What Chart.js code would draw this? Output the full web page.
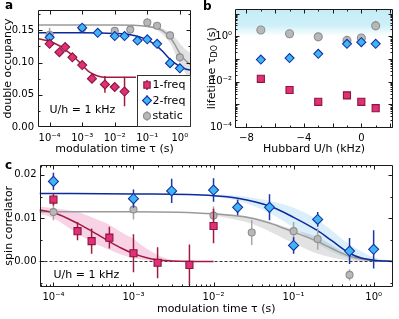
<!DOCTYPE html>
<html><head><meta charset="utf-8">
<script src="https://cdn.jsdelivr.net/npm/chart.js@4.4.1/dist/chart.umd.min.js"></script>
<style>
html,body{margin:0;padding:0;background:#fff}
body{position:relative;width:399px;height:319px;overflow:hidden}
canvas{position:absolute}
.pl{position:absolute;font:bold 12px "DejaVu Sans",sans-serif;color:#000;line-height:12px}
</style></head><body>
<canvas id="ca" width="199" height="160" style="left:0;top:0"></canvas>
<canvas id="cb" width="199" height="160" style="left:200px;top:0"></canvas>
<canvas id="cc" width="399" height="164" style="left:0;top:155px"></canvas>
<div class="pl" style="left:5px;top:-1px">a</div>
<div class="pl" style="left:203px;top:0px">b</div>
<div class="pl" style="left:5px;top:159px">c</div>
<script>
// ---------------- series names ----------------
const seriesNames = ['1-freq', '2-freq', 'static'];
const noteText = 'U/h = 1 kHz';

// ---------------- panel a : double occupancy ----------------
const aX1 = [1e-4, 2e-4, 3e-4, 5e-4, 1e-3, 2e-3, 5e-3, 1e-2, 2e-2];
const aY1 = [0.129, 0.116, 0.124, 0.108, 0.096, 0.075, 0.066, 0.062, 0.055];
const aE1 = [0.005, 0.004, 0.004, 0.004, 0.004, 0.006, 0.013, 0.004, 0.023];
const aX2 = [1e-4, 1e-3, 3e-3, 1e-2, 2e-2, 5e-2, 1e-1, 2e-1, 5e-1, 1];
const aY2 = [0.139, 0.154, 0.146, 0.141, 0.141, 0.134, 0.136, 0.129, 0.099, 0.091];
const aE2 = [0.007, 0.004, 0.006, 0.003, 0.003, 0.003, 0.003, 0.003, 0.006, 0.006];
const aX0 = [1e-4, 1e-3, 1e-2, 3e-2, 1e-1, 2e-1, 5e-1, 1];
const aY0 = [0.143, 0.153, 0.149, 0.151, 0.162, 0.157, 0.142, 0.108];
const aE0 = [0.011, 0.005, 0.006, 0.006, 0.007, 0.005, 0.006, 0.007];
// fit curves
const aFitX1 = [4.4e-5, 1e-4, 2e-4, 3e-4, 5e-4, 7e-4, 1e-3, 1.5e-3, 2e-3, 3e-3, 5e-3, 4.5e-2];
const aFitY1 = [0.137, 0.133, 0.126, 0.120, 0.111, 0.104, 0.096, 0.087, 0.083, 0.079, 0.077, 0.077];
const aFitX2 = [4.4e-5, 1e-3, 1e-2, 3e-2, 0.1, 0.2, 0.3, 0.5, 0.7, 1, 1.5, 2.2];
const aFitY2 = [0.146, 0.146, 0.145, 0.143, 0.135, 0.125, 0.117, 0.105, 0.099, 0.094, 0.090, 0.088];
const aFitX0 = [4.4e-5, 1e-2, 0.1, 0.2, 0.3, 0.5, 0.7, 1, 1.5, 2.2];
const aFitY0 = [0.158, 0.158, 0.156, 0.153, 0.149, 0.139, 0.128, 0.114, 0.103, 0.096];
const aBandX0 = [0.1, 0.2, 0.5, 1, 1.5, 2.2];
const aBandLo0 = [0.155, 0.150, 0.130, 0.098, 0.083, 0.072];
const aBandHi0 = [0.157, 0.156, 0.146, 0.130, 0.120, 0.114];
const aXTicks = [1e-4, 1e-3, 1e-2, 1e-1, 1];
const aXTickLabels = ['10⁻⁴', '10⁻³', '10⁻²', '10⁻¹', '10⁰'];
const aYTicks = [0, 0.05, 0.10, 0.15];
const aYTickLabels = ['0.00', '0.05', '0.10', '0.15'];
const aYMinor = [0.025, 0.075, 0.125, 0.175];

// ---------------- panel b : lifetime ----------------
const bX = [-7, -5, -3, -1, 0, 1];
const bY1 = [0.0134, 0.0043, 0.0013, 0.0025, 0.0013, 0.00068];
const bLo1 = [0.0122, 0.0039, 0.00118, 0.0022, 0.00118, 0.00062];
const bHi1 = [0.0147, 0.0047, 0.00143, 0.0034, 0.00143, 0.00074];
const bY2 = [0.095, 0.11, 0.17, 0.47, 0.55, 0.47];
const bLo2 = [0.088, 0.10, 0.155, 0.43, 0.50, 0.43];
const bHi2 = [0.103, 0.12, 0.185, 0.52, 0.60, 0.52];
const bY0 = [1.9, 1.3, 0.95, 0.66, 0.84, 2.9];
const bLo0 = [1.7, 1.18, 0.86, 0.6, 0.76, 2.6];
const bHi0 = [2.1, 1.45, 1.05, 0.73, 0.93, 4.8];
const bShadeFrom = 1.0;
const bXTicks = [-8, -4, 0];
const bXTickLabels = ['−8', '−4', '0'];
const bXMajorMarks = [-8, -6, -4, -2, 0, 2];
const bXMinorMarks = [-7, -5, -3, -1, 1];
const bYTicks = [1e-4, 1e-2, 1];
const bYTickLabels = ['10⁻⁴', '10⁻²', '10⁰'];
const bYDecades = [1e-4, 1e-3, 1e-2, 1e-1, 1, 10];

// ---------------- panel c : spin correlator ----------------
const cX1 = [1e-4, 2e-4, 3e-4, 5e-4, 1e-3, 2e-3, 5e-3, 1e-2];
const cY1 = [0.0143, 0.0070, 0.0047, 0.0055, 0.0019, -0.0003, -0.0008, 0.0082];
const cE1 = [0.0014, 0.0021, 0.0029, 0.0025, 0.0044, 0.0036, 0.0047, 0.0040];
const cX2 = [1e-4, 1e-3, 3e-3, 1e-2, 2e-2, 5e-2, 1e-1, 2e-1, 5e-1, 1];
const cY2 = [0.0185, 0.0145, 0.0163, 0.0165, 0.0125, 0.0125, 0.0037, 0.0097, 0.0024, 0.0028];
const cE2 = [0.0020, 0.0021, 0.0028, 0.0027, 0.0018, 0.0030, 0.0019, 0.0017, 0.0030, 0.0044];
const cX0 = [1e-4, 1e-3, 1e-2, 3e-2, 1e-1, 2e-1, 5e-1];
const cY0 = [0.0114, 0.0120, 0.0106, 0.0067, 0.0070, 0.0052, -0.0031];
const cE0 = [0.0019, 0.0023, 0.0021, 0.0029, 0.0021, 0.0025, 0.0013];
const cFitX1 = [6.7e-5, 1e-4, 2e-4, 3e-4, 5e-4, 7e-4, 1e-3, 1.5e-3, 2e-3, 3e-3, 5e-3, 1e-2];
const cFitY1 = [0.0119, 0.0113, 0.0088, 0.0070, 0.0046, 0.0031, 0.0018, 0.0008, 0.0004, 0.0001, 0, 0];
const cFitX2 = [6.7e-5, 1e-3, 1e-2, 2e-2, 5e-2, 0.1, 0.2, 0.3, 0.5, 0.7, 1, 1.74];
const cFitY2 = [0.0157, 0.0156, 0.0152, 0.0146, 0.0128, 0.0102, 0.0071, 0.0048, 0.0019, 0.0008, 0.0003, 0];
const cFitX0 = [6.7e-5, 1e-3, 1e-2, 3e-2, 5e-2, 0.1, 0.2, 0.3, 0.5, 1, 1.74];
const cFitY0 = [0.0115, 0.0115, 0.0110, 0.0100, 0.0089, 0.0068, 0.0046, 0.0030, 0.0012, 0.0002, 0];
const cBandX1 = [6.7e-5, 1e-4, 2e-4, 3e-4, 5e-4, 7e-4, 1e-3, 1.5e-3, 2e-3, 3e-3, 5e-3];
const cBandLo1 = [0.0110, 0.0100, 0.0064, 0.0045, 0.0027, 0.0016, 0.0008, 0.0002, 0, 0, 0];
const cBandHi1 = [0.0127, 0.0123, 0.0114, 0.0102, 0.0085, 0.0068, 0.0052, 0.0028, 0.0015, 0.0004, 0.0001];
const cBandX2 = [1e-2, 2e-2, 5e-2, 0.1, 0.2, 0.5, 1, 1.74];
const cBandLo2 = [0.0150, 0.0140, 0.0112, 0.0078, 0.0040, 0.0007, 0.0001, 0];
const cBandHi2 = [0.0155, 0.0152, 0.0140, 0.0124, 0.0096, 0.0040, 0.0010, 0.0002];
const cBandX0 = [1e-2, 3e-2, 0.1, 0.2, 0.5, 1, 1.74];
const cBandLo0 = [0.0106, 0.0087, 0.0042, 0.0018, 0.0002, 0, 0];
const cBandHi0 = [0.0112, 0.0103, 0.0074, 0.0056, 0.0016, 0.0003, 0];
const cZeroLine = 0;
const cXTicks = [1e-4, 1e-3, 1e-2, 1e-1, 1];
const cXTickLabels = ['10⁻⁴', '10⁻³', '10⁻²', '10⁻¹', '10⁰'];
const cYTicks = [0, 0.01, 0.02];
const cYTickLabels = ['0.00', '0.01', '0.02'];
const cYMinor = [-0.005, 0.005, 0.015];

// ---------------- styles ----------------
const RED = {fill: '#e0307a', edge: '#8c1538', line: '#a3183f', err: '#9e1c44'};
const BLUE = {fill: '#3fb6f2', edge: '#1432a8', line: '#0d2a9c', err: '#1c36a8'};
const GRAY = {fill: '#b8b8b8', edge: '#8e8e8e', line: '#9a9a9a', err: '#a6a6a6'};
const FAM = "'DejaVu Sans', sans-serif";
Chart.defaults.font.family = FAM;
Chart.defaults.font.size = 10;
Chart.defaults.color = '#000';

function minorLog(decades) {
  const out = [];
  decades.forEach(d => { for (let k = 2; k <= 9; k++) out.push(d * k); });
  return out;
}

function drawMarker(ctx, style, x, y, r, fill, edge, bw) {
  ctx.beginPath();
  if (style === 'rect') { const s = r * Math.SQRT1_2; ctx.rect(x - s, y - s, 2 * s, 2 * s); }
  else if (style === 'rectRot') { ctx.moveTo(x, y - r); ctx.lineTo(x + r, y); ctx.lineTo(x, y + r); ctx.lineTo(x - r, y); ctx.closePath(); }
  else ctx.arc(x, y, r, 0, Math.PI * 2);
  ctx.fillStyle = fill; ctx.fill();
  ctx.lineWidth = bw; ctx.strokeStyle = edge; ctx.stroke();
}

// ---------- plugins ----------
const framePlugin = {
  id: 'frame',
  afterDatasetsDraw(chart, args, o) {
    if (!o || !o.on) return;
    const {ctx, chartArea: ca, scales: {x, y}} = chart;
    ctx.save();
    ctx.strokeStyle = '#1a1a1a'; ctx.lineWidth = 1;
    const L = Math.round(ca.left) + 0.5, R = Math.round(ca.right) - 0.5, T = Math.round(ca.top) + 0.5, B = Math.round(ca.bottom) - 0.5;
    ctx.beginPath();
    ctx.rect(L, T, R - L, B - T);
    const xt = (v, len) => { const p = Math.round(x.getPixelForValue(v)) + 0.5; if (p < L || p > R) return; ctx.moveTo(p, B); ctx.lineTo(p, B - len); ctx.moveTo(p, T); ctx.lineTo(p, T + len); };
    const yt = (v, len) => { const p = Math.round(y.getPixelForValue(v)) + 0.5; if (p < T || p > B) return; ctx.moveTo(L, p); ctx.lineTo(L + len, p); ctx.moveTo(R, p); ctx.lineTo(R - len, p); };
    (o.xMajor || []).forEach(v => xt(v, 4)); (o.xMinor || []).forEach(v => xt(v, 2));
    (o.yMajor || []).forEach(v => yt(v, 4)); (o.yMinor || []).forEach(v => yt(v, 2));
    ctx.stroke(); ctx.restore();
  }
};
const errPlugin = {
  id: 'errbars',
  beforeDatasetDraw(chart, args) {
    const ds = chart.data.datasets[args.index];
    if (!ds.err && !ds.errLo) return;
    const {ctx, chartArea: ca} = chart; const y = chart.scales.y; const meta = args.meta;
    ctx.save();
    ctx.beginPath(); ctx.rect(ca.left, ca.top, ca.right - ca.left, ca.bottom - ca.top); ctx.clip();
    ctx.strokeStyle = ds.errColor; ctx.lineWidth = 1.5;
    ctx.beginPath();
    ds.data.forEach((pt, i) => {
      const lo = ds.err ? pt.y - ds.err[i] : ds.errLo[i];
      const hi = ds.err ? pt.y + ds.err[i] : ds.errHi[i];
      const px = meta.data[i].x;
      ctx.moveTo(px, y.getPixelForValue(lo)); ctx.lineTo(px, y.getPixelForValue(hi));
    });
    ctx.stroke(); ctx.restore();
  }
};
const legendPlugin = {
  id: 'legendBox',
  afterDraw(chart, args, o) {
    if (!o || !o.items) return;
    const {ctx, chartArea: ca} = chart;
    const x0 = Math.round(ca.right - o.w), y0 = Math.round(ca.bottom - o.h);
    ctx.save();
    ctx.fillStyle = '#fff'; ctx.fillRect(x0, y0, o.w, o.h);
    ctx.strokeStyle = '#333'; ctx.lineWidth = 1; ctx.strokeRect(x0 + 0.5, y0 + 0.5, o.w - 1, o.h - 1);
    o.items.forEach((it, i) => {
      const cy = y0 + o.first + i * o.step, cx = x0 + o.mx;
      ctx.strokeStyle = it.c.err; ctx.lineWidth = 1.5;
      ctx.beginPath(); ctx.moveTo(cx, cy - 5); ctx.lineTo(cx, cy + 5); ctx.stroke();
      drawMarker(ctx, it.style, cx, cy, it.r, it.c.fill, it.c.edge, 1.1);
      ctx.fillStyle = '#000'; ctx.font = '11px ' + FAM; ctx.textBaseline = 'middle'; ctx.textAlign = 'left';
      ctx.fillText(it.label, x0 + o.tx, cy + 0.5);
    });
    ctx.restore();
  }
};
const notePlugin = {
  id: 'note',
  afterDatasetsDraw(chart, args, o) {
    if (!o || !o.text) return;
    const {ctx, chartArea: ca} = chart;
    ctx.save(); ctx.fillStyle = '#000'; ctx.font = '11px ' + FAM; ctx.textBaseline = 'middle'; ctx.textAlign = 'left';
    ctx.fillText(o.text, ca.left + o.dx, ca.bottom - o.dy); ctx.restore();
  }
};
const shadePlugin = {
  id: 'shade',
  beforeDatasetsDraw(chart, args, o) {
    const {ctx, chartArea: ca, scales: {y}} = chart;
    if (o && o.from !== undefined) {
      const y1 = y.getPixelForValue(o.from);
      const g = ctx.createLinearGradient(0, ca.top, 0, y1);
      g.addColorStop(0, 'rgb(196,236,246)'); g.addColorStop(0.6, 'rgb(206,240,248)'); g.addColorStop(1, 'rgb(255,255,255)');
      ctx.save(); ctx.fillStyle = g; ctx.fillRect(ca.left, ca.top, ca.right - ca.left, y1 - ca.top); ctx.restore();
    }
    if (o && o.zero !== undefined) {
      const p = Math.round(y.getPixelForValue(o.zero)) + 0.5;
      ctx.save(); ctx.strokeStyle = '#333'; ctx.lineWidth = 1; ctx.setLineDash([3, 2]);
      ctx.beginPath(); ctx.moveTo(ca.left, p); ctx.lineTo(ca.right, p); ctx.stroke(); ctx.restore();
    }
  }
};
const subTitlePlugin = {
  id: 'subTitle',
  afterDraw(chart, args, o) {
    if (!o || !o.parts) return;
    const {ctx, chartArea: ca} = chart;
    ctx.save(); ctx.translate(o.x, (ca.top + ca.bottom) / 2); ctx.rotate(-Math.PI / 2);
    ctx.fillStyle = '#000'; ctx.textBaseline = 'middle'; ctx.textAlign = 'left';
    let total = 0;
    o.parts.forEach(p => { ctx.font = p.size + 'px ' + FAM; p.w = ctx.measureText(p.t).width; total += p.w; });
    let cx = -total / 2;
    o.parts.forEach(p => { ctx.font = p.size + 'px ' + FAM; ctx.fillText(p.t, cx, p.dy || 0); cx += p.w; });
    ctx.restore();
  }
};
Chart.register(framePlugin, errPlugin, legendPlugin, notePlugin, shadePlugin, subTitlePlugin);

// ---------- dataset helpers ----------
const pts = (xs, ys) => xs.map((x, i) => ({x, y: ys[i]}));
function markerDS(xs, ys, err, style, r, c, order, lo, hi) {
  return {data: pts(xs, ys), showLine: false, pointStyle: style, pointRadius: r, pointHoverRadius: r,
    pointBackgroundColor: c.fill, pointBorderColor: c.edge, pointBorderWidth: 1.1,
    err: err, errLo: lo, errHi: hi, errColor: c.err, order};
}
function lineDS(xs, ys, color, order) {
  return {data: pts(xs, ys), borderColor: color, borderWidth: 1.5, pointRadius: 0, fill: false,
    cubicInterpolationMode: 'monotone', order};
}
function bandDS(xs, lo, hi, color, order) {
  return [
    {data: pts(xs, lo), borderColor: 'transparent', borderWidth: 0.01, pointRadius: 0, fill: false, cubicInterpolationMode: 'monotone', order},
    {data: pts(xs, hi), borderColor: 'transparent', borderWidth: 0.01, pointRadius: 0, fill: '-1', backgroundColor: color, cubicInterpolationMode: 'monotone', order}
  ];
}
function axis(type, min, max, ticks, labels, size, pad, title, titlePad, isX) {
  const a = {
    type, min, max,
    grid: {display: false, drawTicks: false},
    border: {display: false},
    ticks: {autoSkip: false, maxRotation: 0, minRotation: 0, padding: pad, font: {size: 10}, color: '#000',
      callback: (v, i) => labels[i]},
    afterBuildTicks: s => { s.ticks = ticks.map(v => ({value: v})); },
    afterFit: s => { if (isX) s.height = size; else s.width = size; },
    title: {display: !!title, text: title, font: {size: 11}, color: '#000', padding: titlePad}
  };
  return a;
}
function baseOptions(padding, scales, plugins) {
  return {
    responsive: false, animation: false, devicePixelRatio: 1, events: [],
    layout: {padding},
    plugins: Object.assign({legend: {display: false}, tooltip: {enabled: false}}, plugins),
    scales
  };
}

// ---------- panel a ----------
new Chart(document.getElementById('ca'), {
  type: 'line',
  data: {datasets: [
    markerDS(aX1, aY1, aE1, 'rectRot', 4.5, RED, 1),
    markerDS(aX2, aY2, aE2, 'rectRot', 4.5, BLUE, 2),
    markerDS(aX0, aY0, aE0, 'circle', 3.5, GRAY, 3),
    lineDS(aFitX1, aFitY1, RED.line, 5),
    lineDS(aFitX2, aFitY2, BLUE.line, 6),
    lineDS(aFitX0, aFitY0, GRAY.line, 7),
    ...bandDS(aBandX0, aBandLo0, aBandHi0, 'rgba(200,200,200,0.55)', 10)
  ]},
  options: baseOptions({top: 6, right: 8, left: 0, bottom: 0}, {
    x: axis('logarithmic', 4.4e-5, 2.2, aXTicks, aXTickLabels, 33, 5.5, 'modulation time τ (s)', {top: 0, bottom: 4}, true),
    y: axis('linear', 0, 0.1814, aYTicks, aYTickLabels, 38, 4, 'double occupancy', {top: 2, bottom: 0}, false)
  }, {
    frame: {on: true, xMajor: aXTicks, yMajor: aYTicks, yMinor: aYMinor},
    legendBox: {w: 54, h: 52, first: 10, step: 15.5, mx: 10, tx: 15.5, items: [
      {label: seriesNames[0], style: 'rect', r: 4.5, c: RED},
      {label: seriesNames[1], style: 'rectRot', r: 4.5, c: BLUE},
      {label: seriesNames[2], style: 'circle', r: 3.5, c: GRAY}
    ]},
    note: {text: noteText, dx: 11.5, dy: 17}
  })
});

// ---------- panel b ----------
new Chart(document.getElementById('cb'), {
  type: 'line',
  data: {datasets: [
    markerDS(bX, bY1, null, 'rect', 5, RED, 1, bLo1, bHi1),
    markerDS(bX, bY2, null, 'rectRot', 4.5, BLUE, 2, bLo2, bHi2),
    markerDS(bX, bY0, null, 'circle', 4, GRAY, 3, bLo0, bHi0)
  ]},
  options: baseOptions({top: 5, right: 4, left: 0, bottom: 0}, {
    x: axis('linear', -8.8, 2.2, bXTicks, bXTickLabels, 32.5, 5, 'Hubbard U/h (kHz)', {top: 0, bottom: 4}, true),
    y: axis('logarithmic', 9.6e-5, 16, bYTicks, bYTickLabels, 35, 3, '', 0, false)
  }, {
    frame: {on: true, xMajor: bXMajorMarks, xMinor: bXMinorMarks, yMajor: bYDecades, yMinor: minorLog(bYDecades)},
    shade: {from: bShadeFrom},
    subTitle: {x: 12, parts: [{t: 'lifetime τ', size: 11}, {t: 'DO', size: 8, dy: 3}, {t: ' (s)', size: 11}]}
  })
});

// ---------- panel c ----------
new Chart(document.getElementById('cc'), {
  type: 'line',
  data: {datasets: [
    markerDS(cX2, cY2, cE2, 'rectRot', 5, BLUE, 1),
    markerDS(cX1, cY1, cE1, 'rect', 5, RED, 2),
    markerDS(cX0, cY0, cE0, 'circle', 3.5, GRAY, 3),
    lineDS(cFitX1, cFitY1, RED.line, 5),
    lineDS(cFitX2, cFitY2, BLUE.line, 6),
    lineDS(cFitX0, cFitY0, GRAY.line, 7),
    ...bandDS(cBandX1, cBandLo1, cBandHi1, 'rgba(236,140,190,0.38)', 10),
    ...bandDS(cBandX2, cBandLo2, cBandHi2, 'rgba(150,208,240,0.35)', 11),
    ...bandDS(cBandX0, cBandLo0, cBandHi0, 'rgba(150,150,150,0.28)', 9)
  ]},
  options: baseOptions({top: 9.5, right: 3, left: 0, bottom: 0}, {
    x: axis('logarithmic', 6.7e-5, 1.74, cXTicks, cXTickLabels, 32, 4, 'modulation time τ (s)', {top: 0, bottom: 3}, true),
    y: axis('linear', -0.0059, 0.0224, cYTicks, cYTickLabels, 39.5, 3, 'spin correlator', {top: 2.5, bottom: 0}, false)
  }, {
    frame: {on: true, xMajor: cXTicks, xMinor: minorLog([1e-5, 1e-4, 1e-3, 1e-2, 1e-1, 1]), yMajor: cYTicks, yMinor: cYMinor},
    shade: {zero: cZeroLine},
    note: {text: noteText, dx: 14, dy: 12}
  })
});
</script>
</body></html>
